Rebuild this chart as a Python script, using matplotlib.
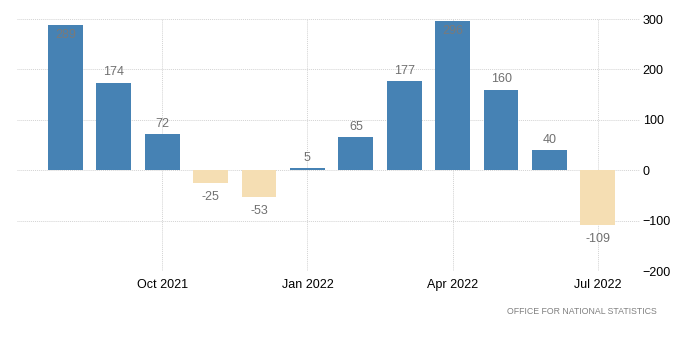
import matplotlib
matplotlib.use("Agg")
import matplotlib.pyplot as plt

# monthly change, Aug 2021 - Jul 2022
months = ["Aug 2021", "Sep 2021", "Oct 2021", "Nov 2021", "Dec 2021", "Jan 2022",
          "Feb 2022", "Mar 2022", "Apr 2022", "May 2022", "Jun 2022", "Jul 2022"]
values = [289, 174, 72, -25, -53, 5, 65, 177, 296, 160, 40, -109]
tick_labels = ["Oct 2021", "Jan 2022", "Apr 2022", "Jul 2022"]
y_ticks = [-200, -100, 0, 100, 200, 300]

BLUE = "#4682b4"
TAN = "#f5deb3"
GRID = "#d3d3d3"
LABEL = "#707070"

plt.rcParams["font.family"] = ["Liberation Sans", "DejaVu Sans"]

fig = plt.figure(figsize=(7, 3.57), dpi=100)
ax = fig.add_axes([17 / 700, 1 - 271 / 357, 623 / 700, 252 / 357])

x = list(range(len(values)))
colors = [BLUE if v >= 0 else TAN for v in values]
ax.bar(x, values, width=0.72, color=colors, zorder=2)

# value labels: tall bars get the label inside
for xi, v in zip(x, values):
    if v > 250:
        ax.annotate(str(v), (xi, v), xytext=(0, -3), textcoords="offset points",
                    ha="center", va="top", fontsize=9, color="#7a7a7a", zorder=3)
    elif v >= 0:
        ax.annotate(str(v), (xi, v), xytext=(0, 3), textcoords="offset points",
                    ha="center", va="bottom", fontsize=9, color=LABEL, zorder=3)
    else:
        ax.annotate(str(v), (xi, v), xytext=(0, -6), textcoords="offset points",
                    ha="center", va="top", fontsize=9, color=LABEL, zorder=3)

ax.set_xlim(-1, 11.87)
ax.set_ylim(-200, 300)
ax.set_xticks([months.index(t) for t in tick_labels])
ax.set_xticklabels(tick_labels)
ax.set_yticks(y_ticks)
ax.yaxis.tick_right()

ax.grid(True, color=GRID, linestyle=(0, (1, 1)), linewidth=0.7, zorder=0)
for s in ax.spines.values():
    s.set_visible(False)
ax.tick_params(axis="both", length=0, labelsize=9, colors="black")
ax.tick_params(axis="x", pad=6)
ax.tick_params(axis="y", pad=2)

fig.text(657 / 700, 1 - 312 / 357, "OFFICE FOR NATIONAL STATISTICS", ha="right",
         va="center", fontsize=6.3, color="#808080")

fig.savefig("out.png", dpi=100)
